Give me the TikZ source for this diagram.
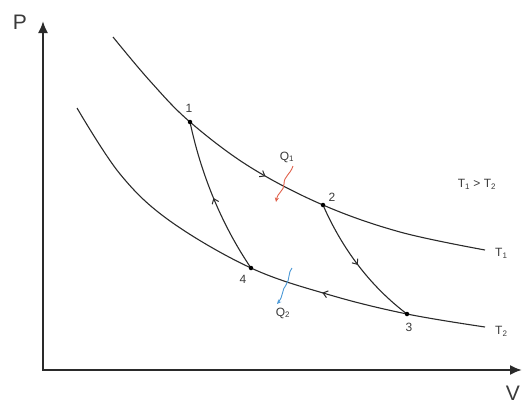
\documentclass[tikz,border=0pt]{standalone}
\usepackage{fontspec}
\setmainfont{Liberation Sans}
\usetikzlibrary{arrows.meta,decorations.markings}
\definecolor{ink}{HTML}{2A2A2A}
\definecolor{txt}{HTML}{3A3A3A}
\definecolor{heatred}{HTML}{E0604A}
\definecolor{heatblue}{HTML}{4A98D6}
\begin{document}
\begin{tikzpicture}[x=1pt,y=-1pt,
  curve/.style={draw=ink, line width=1.1pt},
  axisline/.style={draw=ink, line width=2pt, line join=miter,
    {Latex[length=12pt,width=10pt]}-{Latex[length=12pt,width=10pt]}},
  dot/.style={circle, fill=black, inner sep=0pt, minimum size=4.5pt},
  lbl/.style={text=txt, font=\fontsize{12}{14}\selectfont, inner sep=1pt},
  axlbl/.style={text=txt, font=\fontsize{21}{24}\selectfont, inner sep=0pt},
  midarrow/.style={postaction={decorate}, decoration={markings,
    mark=at position #1 with {\arrow[ink, line width=1pt]{Straight Barb[length=4.5pt,width=7pt]}}}},
  midarrowrev/.style={postaction={decorate}, decoration={markings,
    mark=at position #1 with {\arrowreversed[ink, line width=1pt]{Straight Barb[length=4.5pt,width=7pt]}}}},
  heat/.style={line width=0.9pt, -{Stealth[length=4.5pt,width=4pt]}}
]
\useasboundingbox (0,0) rectangle (523,405);

% axes
\coordinate (O) at (43,370);
\coordinate (Ytip) at (43,21);
\coordinate (Xtip) at (522,370);
\draw[axisline] (Ytip) -- (O) -- (Xtip);
\node[axlbl] (P) at (20,22) {P};
\node[axlbl] (V) at (513,393) {V};

% state points
\coordinate (p1) at (190,122);
\coordinate (p2) at (323,205);
\coordinate (p3) at (407,314);
\coordinate (p4) at (251,268);

% isotherms
\draw[curve, midarrow=208pt] plot[smooth, tension=0.6] coordinates
  {(113,37) (150,81) (p1) (250,167) (p2) (400,232) (485,250)};
\draw[curve, midarrowrev=317pt] plot[smooth, tension=0.6] coordinates
  {(77,108) (120,174) (170,221) (p4) (330,295) (p3) (485,327)};

% adiabats
\draw[curve, midarrow=0.5] (p4) .. controls (215,215) and (198,160) .. (p1);
\draw[curve, midarrow=0.5] (p2) .. controls (337,237) and (362,280) .. (p3);

% dots
\node[dot] (d1) at (p1) {};
\node[dot] (d2) at (p2) {};
\node[dot] (d3) at (p3) {};
\node[dot] (d4) at (p4) {};

% point labels
\node[lbl] (l1) at (189,108) {1};
\node[lbl] (l2) at (332,197) {2};
\node[lbl] (l3) at (409,327) {3};
\node[lbl] (l4) at (243,279) {4};

% curve labels
\node[lbl, anchor=west] (t1) at (494,253) {T\textsubscript{1}};
\node[lbl, anchor=west] (t2) at (494,331) {T\textsubscript{2}};
\node[lbl] (cond) at (477,184) {T\textsubscript{1} > T\textsubscript{2}};

% heat flows
\node[lbl] (q1) at (287,157) {Q\textsubscript{1}};
\node[lbl] (q2) at (283,313) {Q\textsubscript{2}};
\coordinate (r0) at (293,166);
\coordinate (r1) at (284,184);
\coordinate (r2) at (276,202);
\draw[heat, heatred] (r0) .. controls (290,175) and (284,176) .. (r1)
  .. controls (284,191) and (278,192) .. (r2);
\coordinate (b0) at (292,268);
\coordinate (b1) at (286,285);
\coordinate (b2) at (277,304);
\draw[heat, heatblue] (b0) .. controls (288,272) and (290,280) .. (b1)
  .. controls (282,289) and (283,297) .. (b2);
\end{tikzpicture}
\end{document}
